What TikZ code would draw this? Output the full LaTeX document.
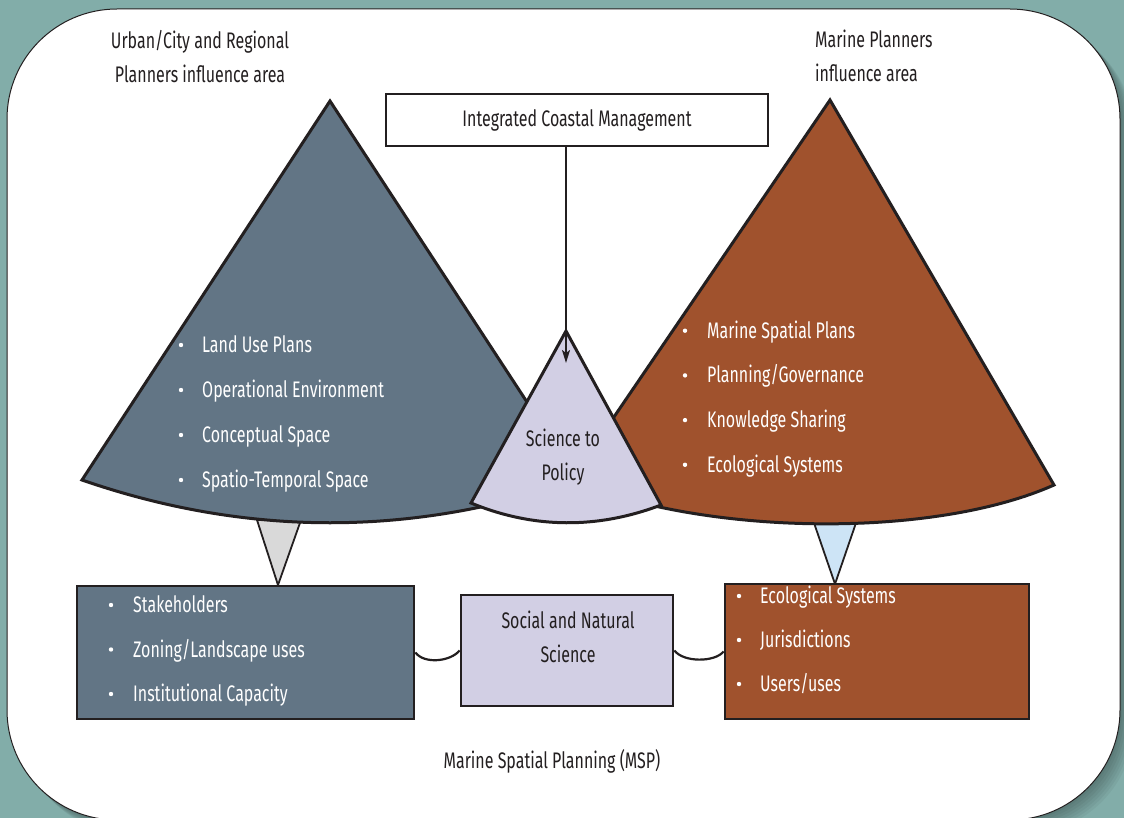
\documentclass[tikz,border=0pt]{standalone}
\usepackage{fontspec}
\setmainfont{Fira Sans}[FakeStretch=0.71]
\usetikzlibrary{arrows.meta}

\definecolor{bgteal}{HTML}{82ADA9}
\definecolor{slate}{HTML}{627585}
\definecolor{rust}{HTML}{A0522D}
\definecolor{lav}{HTML}{D2CFE4}
\definecolor{trigray}{HTML}{D9D9D9}
\definecolor{triblue}{HTML}{CDE4F6}
\definecolor{ink}{HTML}{231F20}

\tikzset{
  txt/.style={font=\fontsize{22.5}{34}\selectfont, text=ink, inner sep=0pt},
  item/.style={txt, text=white, anchor=base west},
  cone/.style={draw=ink, line width=3pt, line join=miter},
  funnel/.style={draw=ink, line width=1.8pt, line join=miter},
  box/.style={draw=ink, line width=2.8pt, inner sep=0pt},
  link/.style={draw=ink, line width=2.2pt},
}

\begin{document}
\begin{tikzpicture}[x=1pt,y=-1pt]
\useasboundingbox (0,0) rectangle (1124,818);
\clip (0,0) rectangle (1124,818);

% backdrop and panel with its soft shadow
\fill[bgteal] (0,0) rectangle (1124,818);
\foreach \d in {2,4,...,14}
  \fill[black, opacity=0.045, rounded corners=110pt] (7+\d,9+\d) rectangle (1120+\d,820+\d);
\filldraw[fill=white, draw=ink, line width=1pt, rounded corners=110pt] (7,9) rectangle (1120,820);

% headings
\node[txt, align=center] (lhead) at (200,57) {Urban/City and Regional\\Planners influence area};
\node[txt, align=left, anchor=west] (rhead) at (815,56) {Marine Planners\\influence area};

% funnels under the cones
\filldraw[funnel, fill=trigray] (257,520) -- (301,520) -- (278,585) -- cycle;
\filldraw[funnel, fill=triblue] (813,520) -- (857,520) -- (835,584) -- cycle;

% the two influence cones
\filldraw[cone, fill=slate] (330,101) -- (82,480)
  .. controls (247,537) and (413,537) .. (578,480) -- cycle;
\filldraw[cone, fill=rust] (830,100) -- (571,480)
  .. controls (700,535) and (930,540) .. (1054,485) -- cycle;

% science-to-policy cone
\coordinate (mapex) at (566,331);
\coordinate (atip) at (566,363);
\filldraw[cone, fill=lav] (mapex) -- (471,503)
  .. controls (534,529) and (598,529) .. (661,505) -- cycle;
\node[txt, align=center] (stp) at (563,457) {Science to\\Policy};

% integrated coastal management
\node[box, draw=ink, line width=2pt, fill=white, minimum width=382pt, minimum height=52pt, txt]
  (icm) at (577,120) {Integrated Coastal Management};
\draw[line width=1.8pt, ink, -{Stealth[length=13pt,width=8pt,inset=3pt]}] (icm.south -| mapex) -- (atip);

% left cone list
\foreach \t [count=\i] in {Land Use Plans, Operational Environment, Conceptual Space, Spatio-Temporal Space} {
  \node[item] (lc\i) at (202,307.5+45*\i) {\t};
  \fill[white] (181,300+45*\i) circle (2.2pt);
}
% right cone list
\foreach \t [count=\i] in {Marine Spatial Plans, Planning/Governance, Knowledge Sharing, Ecological Systems} {
  \node[item] (rc\i) at (707,293.5+44.7*\i) {\t};
  \fill[white] (685,286+44.7*\i) circle (2.2pt);
}

% bottom boxes
\node[box, fill=slate, minimum width=337pt, minimum height=133pt] (lbox) at (245.5,652.5) {};
\node[box, fill=lav, minimum width=212pt, minimum height=111pt] (sbox) at (567,650.5) {};
\node[box, fill=rust, minimum width=304pt, minimum height=135pt] (rbox) at (877,651.5) {};
\node[txt, align=center] (sns) at (568,637) {Social and Natural\\Science};

\foreach \t [count=\i] in {Stakeholders, Zoning/Landscape uses, Institutional Capacity} {
  \node[item] (lb\i) at (133,568+44.5*\i) {\t};
  \fill[white] (111,560.5+44.5*\i) circle (2.2pt);
}
\foreach \t [count=\i] in {Ecological Systems, Jurisdictions, Users/uses} {
  \node[item] (rb\i) at (760,559.5+44*\i) {\t};
  \fill[white] (739,552+44*\i) circle (2.2pt);
}

% links between the boxes
\draw[link] (lbox.east) .. controls +(9,12) and +(-9,11) .. (sbox.west);
\draw[link] (sbox.east) .. controls +(9,12) and +(-9,11) .. (rbox.west);

% caption
\node[txt] (msp) at (552,761) {Marine Spatial Planning (MSP)};
\end{tikzpicture}
\end{document}
